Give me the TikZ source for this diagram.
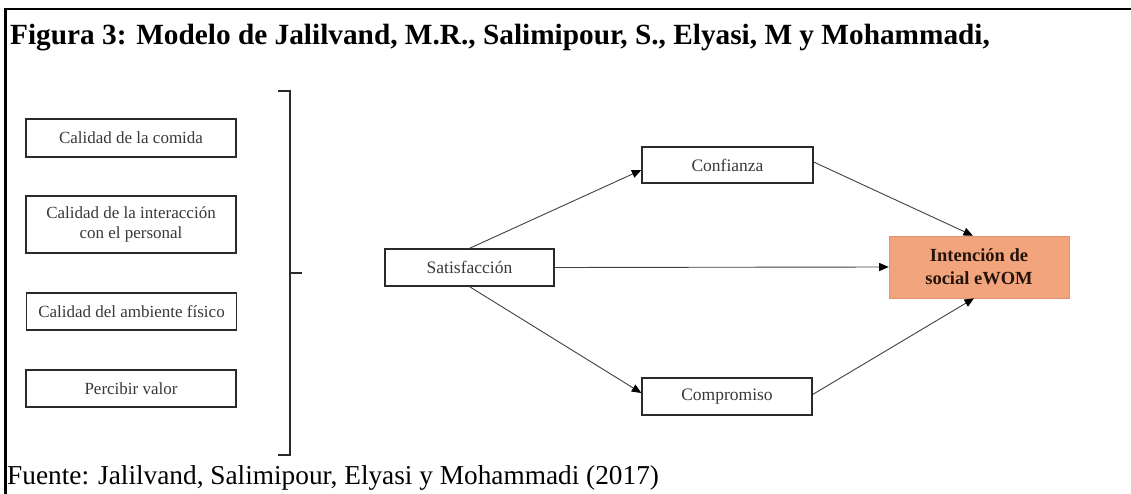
\documentclass[tikz,border=0pt]{standalone}
\usepackage{fontspec}
\setmainfont{Liberation Serif}
\usetikzlibrary{arrows.meta}
\definecolor{boxline}{HTML}{2A2A2A}
\definecolor{boxtext}{HTML}{383838}
\definecolor{conn}{HTML}{404040}
\definecolor{salmon}{RGB}{242,164,124}
\definecolor{salmonedge}{RGB}{228,145,112}
\definecolor{darktxt}{HTML}{24140D}
\begin{document}
\begin{tikzpicture}[x=1pt,y=-1pt,
  factor/.style={draw=boxline,line width=1.3pt,minimum width=210pt,inner sep=0pt,align=center,text=boxtext,font=\fontsize{17}{20.5}\selectfont},
  midbox/.style={draw=boxline,line width=1.3pt,minimum width=170pt,minimum height=37pt,inner sep=0pt,text=boxtext,font=\fontsize{17.5}{20}\selectfont},
  target/.style={fill=salmon,draw=salmonedge,line width=0.6pt,minimum width=180pt,minimum height=62pt,inner sep=0pt,align=center,text=darktxt,font=\bfseries\fontsize{18.5}{23}\selectfont},
  link/.style={draw=conn,line width=0.9pt,-{Triangle[length=9.5pt,width=8pt,color=black]}},
  bracketline/.style={draw=boxline,line width=1.3pt}
  ]
\useasboundingbox (0,0) rectangle (1131,494);
% frame
\coordinate (fbl) at (5.5,494);
\coordinate (ftl) at (5.5,9);
\coordinate (ftr) at (1131,9);
\draw[line width=2.5pt,black] (fbl) -- (ftl) -- (ftr);
% title and source
\node[anchor=base west,font=\bfseries\fontsize{29.3}{34}\selectfont,inner sep=0pt] (title) at (10,45) {Figura 3: Modelo de Jalilvand, M.R., Salimipour, S., Elyasi, M y Mohammadi,};
\node[anchor=base west,font=\fontsize{27.3}{32}\selectfont,inner sep=0pt] (src) at (7,484) {Fuente: Jalilvand, Salimipour, Elyasi y Mohammadi (2017)};
% factor boxes
\node[factor,minimum height=38pt] (f1) at (131,138) {Calidad de la comida};
\node[factor,minimum height=57pt] (f2) at (131,224.5) {Calidad de la interacción\\con el personal};
\node[factor,minimum height=37pt] (f3) at (131.5,311.5) {Calidad del ambiente físico};
\node[factor,minimum height=37pt] (f4) at (131,388.5) {Percibir valor};
% bracket
\coordinate (bt) at (278,91);
\coordinate (btv) at (290,91);
\coordinate (bbv) at (290,455);
\coordinate (bb) at (278,455);
\coordinate (bm) at (290,273);
\coordinate (bmr) at (302,273);
\draw[bracketline] (bt) -- (btv) -- (bbv) -- (bb);
\draw[bracketline] (bm) -- (bmr);
% middle boxes
\node[midbox,minimum width=169pt] (sat) at (469.5,267.5) {Satisfacción};
\node[midbox,minimum width=171pt,minimum height=36pt] (conf) at (727.5,165) {Confianza};
\node[midbox] (comp) at (727,396.5) {Compromiso};
\node[target] (int) at (979,267) {Intención de\\social eWOM};
% connectors
\draw[link] (sat.north) -- ([yshift=-5pt]conf.west);
\draw[link] (sat.south) -- ([yshift=3.5pt]comp.west);
\draw[link] (sat.east) -- (int.west);
\draw[link] ([yshift=3pt]conf.east) -- ([xshift=-6pt]int.north);
\draw[link] ([yshift=2pt]comp.east) -- ([xshift=-5pt]int.south);
\end{tikzpicture}
\end{document}
